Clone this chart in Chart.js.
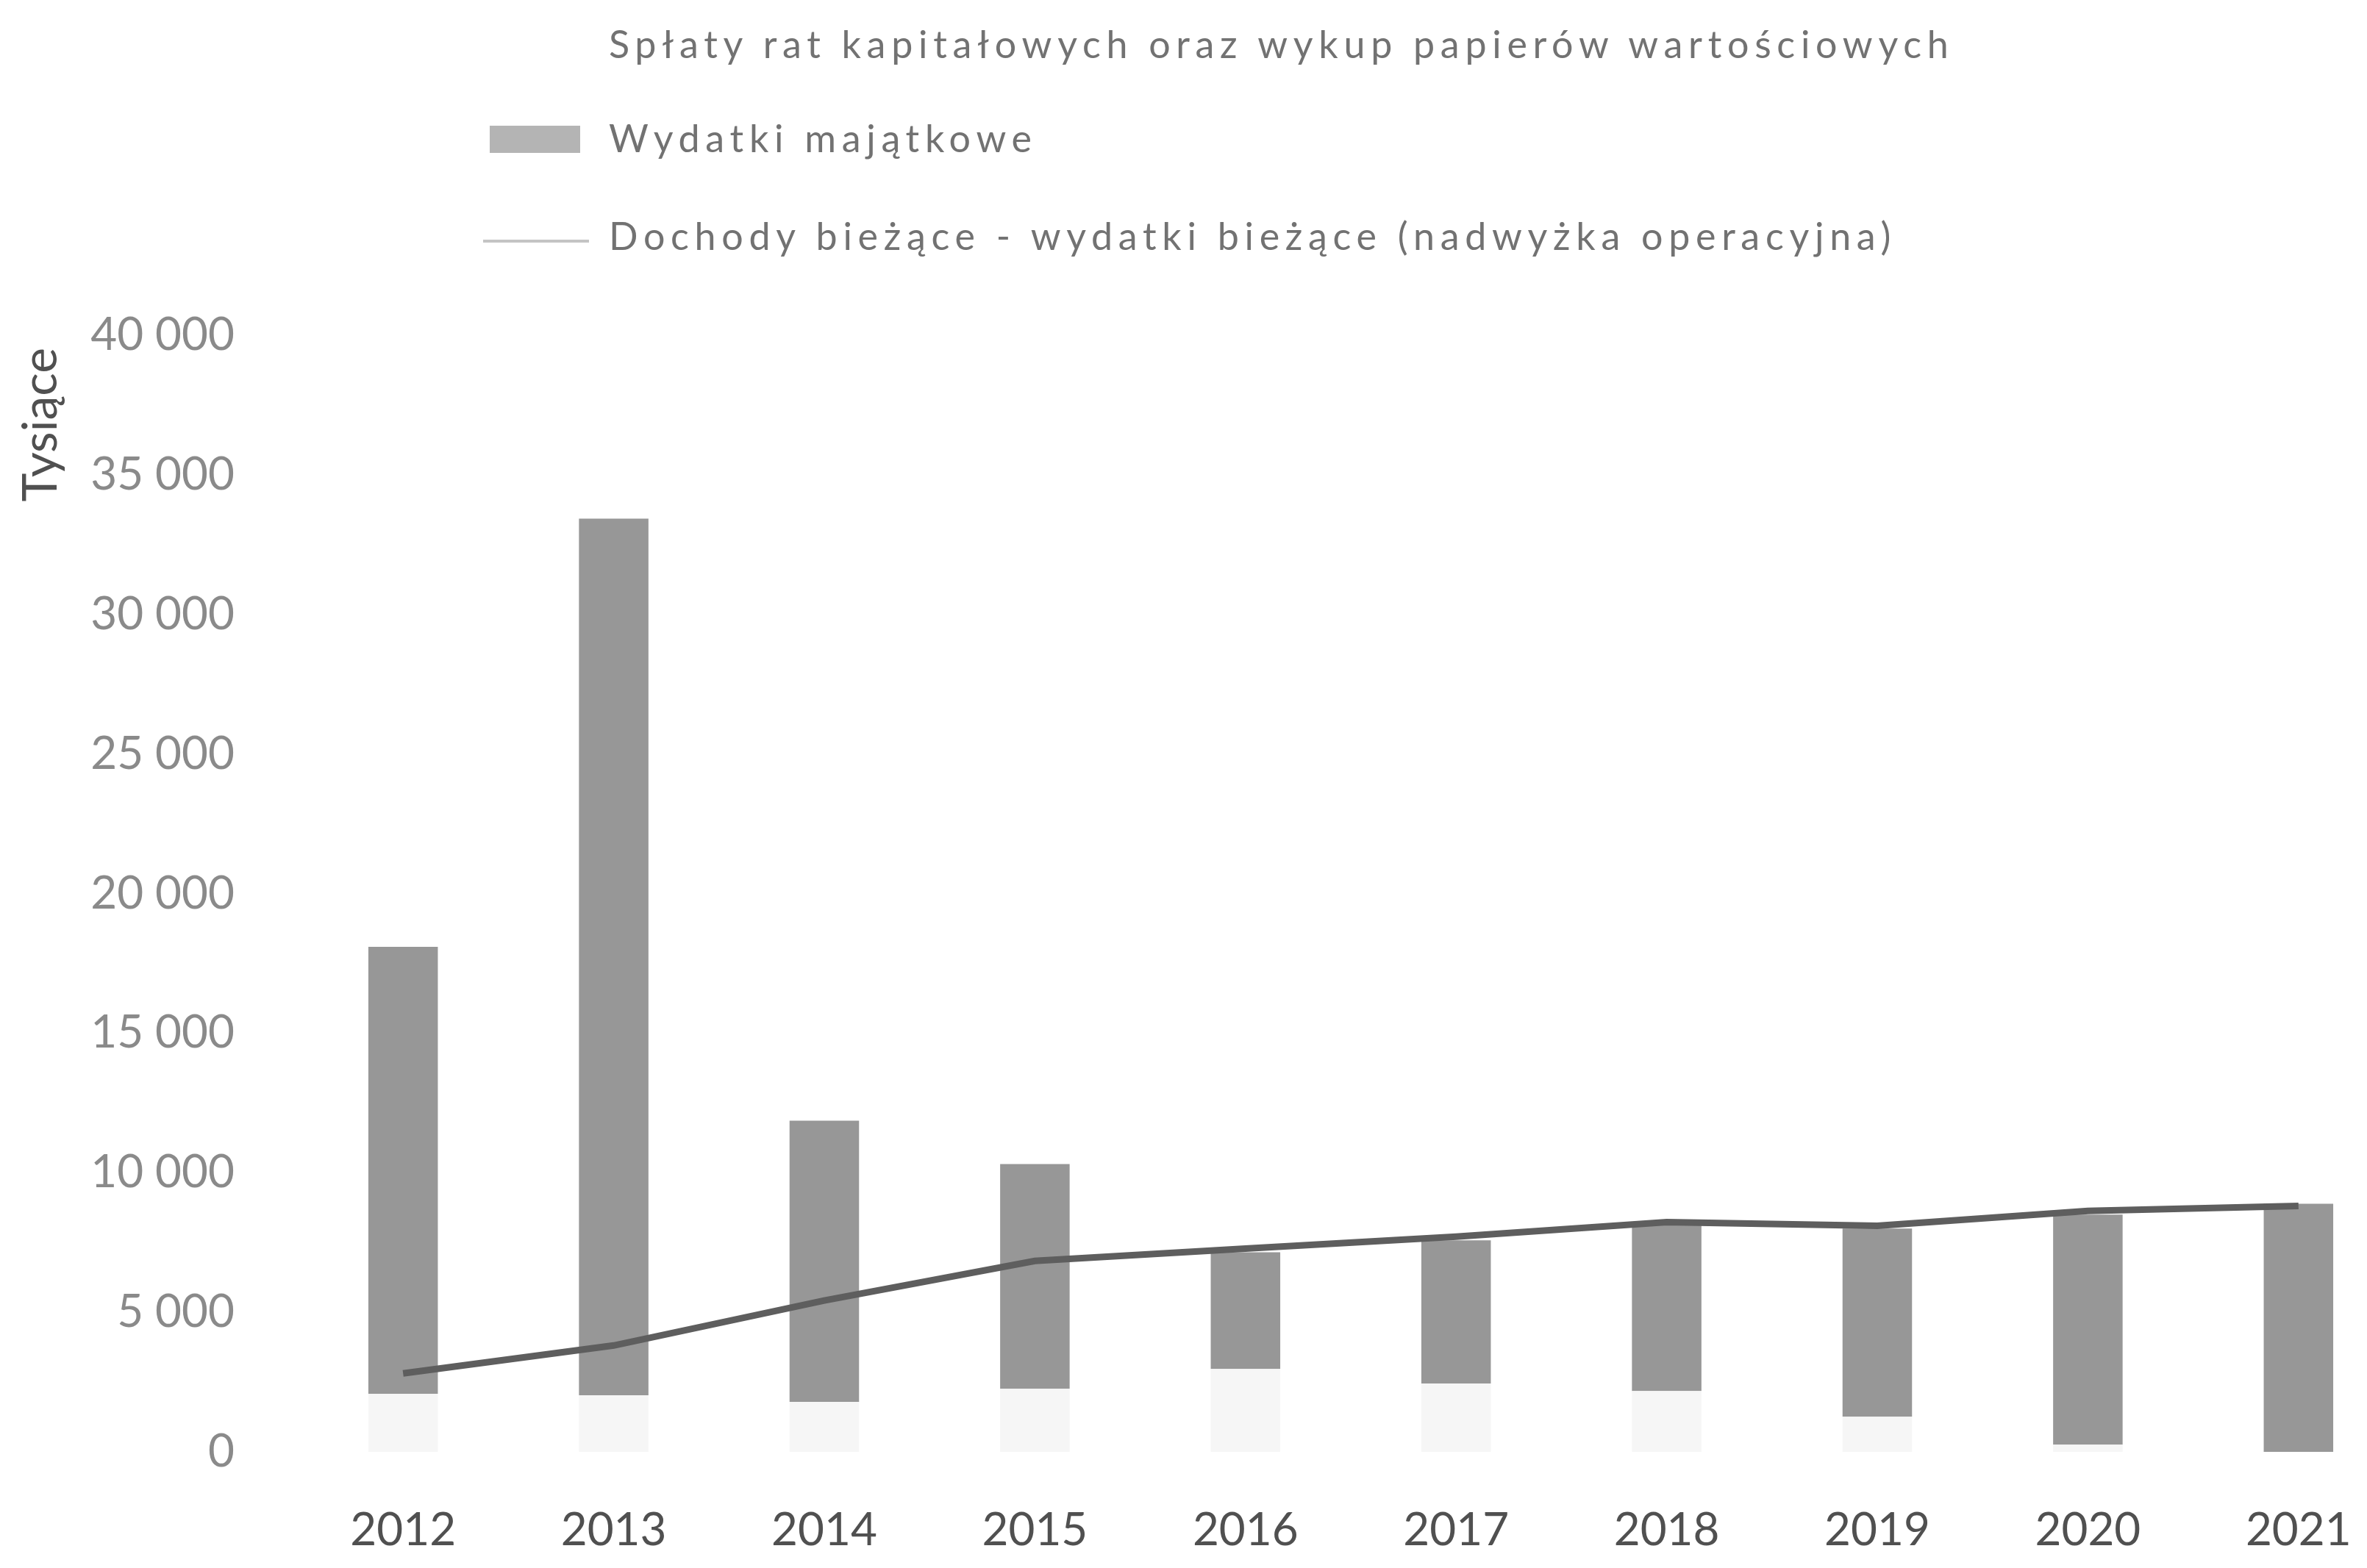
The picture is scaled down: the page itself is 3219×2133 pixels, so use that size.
<!DOCTYPE html>
<html>
<head>
<meta charset="utf-8">
<script src="https://cdn.jsdelivr.net/npm/chart.js@4.4.1/dist/chart.umd.min.js"></script>
<style>
  html, body { margin: 0; padding: 0; background: #fff; overflow: hidden; }
  body { width: 3219px; height: 2133px; position: relative; }
  #wrap { position: absolute; left: 0; top: 0; width: 3290px; height: 2133px; }
  .legend-row {
    position: absolute;
    left: 657px;
    height: 52px;
    font-family: Lato, sans-serif;
    font-size: 52px;
    line-height: 52px;
    letter-spacing: 7.7px;
    color: #727272;
    white-space: nowrap;
  }
  .legend-row .mark { position: absolute; }
  .legend-row .txt { position: absolute; left: 171px; top: 0; }
</style>
</head>
<body>
<div id="wrap"><canvas id="chart"></canvas></div>
<div id="legend"></div>
<script>
// lata
const years = ['2012', '2013', '2014', '2015', '2016', '2017', '2018', '2019', '2020', '2021'];

// tys. zł
const splatyRat = [2080, 2025, 1790, 2260, 2970, 2450, 2180, 1260, 260, 0];
const wydatkiMajatkowe = [16010, 31405, 10070, 8050, 4180, 5130, 5990, 6740, 8240, 8890];
const nadwyzkaOperacyjna = [2810, 3810, 5420, 6840, 7280, 7710, 8230, 8100, 8630, 8810];

const yTicks = [0, 5000, 10000, 15000, 20000, 25000, 30000, 35000, 40000];

const labels = {
  splaty: 'Spłaty rat kapitałowych oraz wykup papierów wartościowych',
  majatkowe: 'Wydatki majątkowe',
  nadwyzka: 'Dochody bieżące - wydatki bieżące (nadwyżka operacyjna)'
};

const fmt = v => String(v).replace(/\B(?=(\d{3})+(?!\d))/g, ' ');

const chart = new Chart(document.getElementById('chart'), {
  type: 'bar',
  data: {
    labels: years,
    datasets: [
      {
        label: labels.splaty,
        data: splatyRat,
        backgroundColor: '#f6f6f6',
        stack: 'wydatki',
        order: 1,
        barPercentage: 0.33,
        categoryPercentage: 1
      },
      {
        label: labels.majatkowe,
        data: wydatkiMajatkowe,
        backgroundColor: '#979797',
        stack: 'wydatki',
        order: 1,
        barPercentage: 0.33,
        categoryPercentage: 1
      },
      {
        type: 'line',
        label: labels.nadwyzka,
        data: nadwyzkaOperacyjna,
        borderColor: '#5e5e5e',
        borderWidth: 9,
        pointRadius: 0,
        tension: 0,
        fill: false,
        stack: 'linia',
        order: 0
      }
    ]
  },
  options: {
    responsive: true,
    maintainAspectRatio: false,
    animation: false,
    layout: { padding: { top: 456, right: 21, left: 0, bottom: 0 } },
    plugins: {
      legend: { display: false },
      tooltip: { enabled: false }
    },
    scales: {
      x: {
        stacked: true,
        grid: { display: false, drawTicks: false },
        border: { display: false },
        ticks: {
          color: '#505050',
          padding: 70,
          font: { family: 'Lato', size: 62 }
        },
        afterFit: scale => { scale.height = 158; }
      },
      y: {
        stacked: true,
        min: 0,
        max: 40000,
        afterBuildTicks: scale => { scale.ticks = yTicks.map(v => ({ value: v })); },
        grid: { display: false, drawTicks: false },
        border: { display: false },
        ticks: {
          color: '#8a8a8a',
          padding: 86,
          font: { family: 'Lato', size: 62 },
          callback: v => fmt(v)
        },
        title: {
          display: true,
          text: 'Tysiące\u00a0',
          align: 'end',
          color: '#505050',
          font: { family: 'Lato', size: 66 },
          padding: { top: 16, bottom: 0 }
        },
        afterFit: scale => { scale.width = 405; }
      }
    }
  }
});

// legenda w kolumnie nad wykresem
const legendRows = [
  { ds: 0, top: 33, kind: 'none' },
  { ds: 1, top: 161, kind: 'box' },
  { ds: 2, top: 294, kind: 'line' }
];
const legendEl = document.getElementById('legend');
legendRows.forEach(row => {
  const ds = chart.data.datasets[row.ds];
  const div = document.createElement('div');
  div.className = 'legend-row';
  div.style.top = row.top + 'px';
  const mark = document.createElement('div');
  mark.className = 'mark';
  if (row.kind === 'box') {
    Object.assign(mark.style, { left: '9px', top: '10px', width: '123px', height: '37px', background: '#b4b4b4' });
  } else if (row.kind === 'line') {
    Object.assign(mark.style, { left: '0px', top: '32px', width: '144px', height: '4px', background: '#c4c4c4' });
  }
  div.appendChild(mark);
  const txt = document.createElement('span');
  txt.className = 'txt';
  txt.textContent = ds.label;
  div.appendChild(txt);
  legendEl.appendChild(div);
});
</script>
</body>
</html>
